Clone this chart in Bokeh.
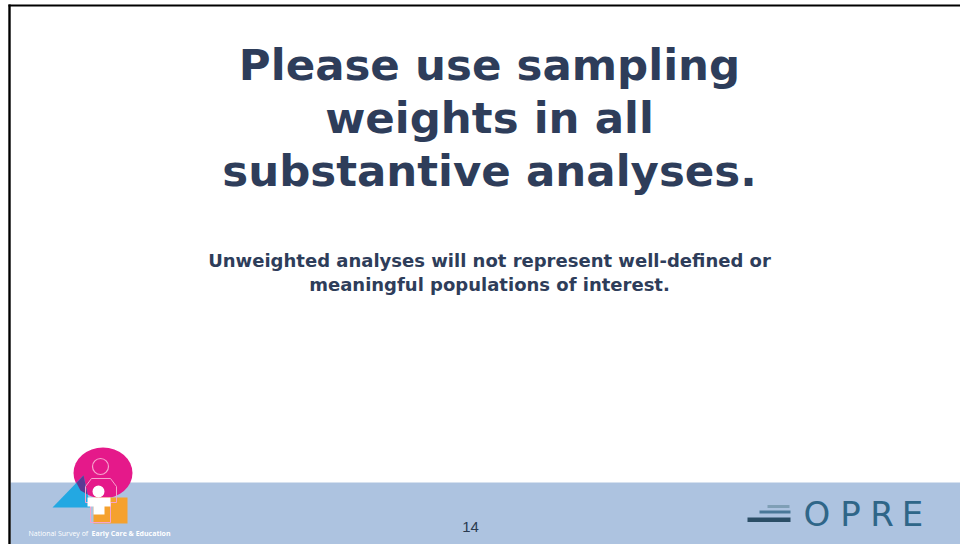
from bokeh.plotting import figure
from bokeh.models import Range1d
from bokeh.core.properties import value
from bokeh.embed import file_html
from bokeh.resources import INLINE

# ---- content ----
title_lines = ["Please use sampling", "weights in all", "substantive analyses."]
subtitle_lines = ["Unweighted analyses will not represent well-defined or",
                  "meaningful populations of interest."]
page_number = ["14"]
logo_letters = ["O", "P", "R", "E"]
nsece_caption_a = ["National Survey of "]
nsece_caption_b = ["Early Care & Education"]

W, H = 960, 544
TEXT_COLOR = "#2e3d5a"
BAND_COLOR = "#adc3e0"
K = 0.36  # baseline correction factor for svg text

p = figure(width=W, height=H, output_backend="svg", toolbar_location=None,
           x_range=Range1d(0, W), y_range=Range1d(H, 0),
           min_border=0, outline_line_color=None, background_fill_color="white",
           border_fill_color="white")
p.axis.visible = False
p.grid.visible = False

# footer band
p.quad(left=[10], right=[W], top=[482], bottom=[H], fill_color=BAND_COLOR,
       line_color=None)

# slide frame (top and left black edges)
p.segment(x0=[8], y0=[5], x1=[W], y1=[5], line_color="black", line_width=2.2)
p.segment(x0=[9], y0=[4], x1=[9], y1=[H], line_color="black", line_width=2.4)

# title
ts = 43.5
p.text(x=[489] * 3, y=[b - K * ts for b in (80, 133, 186)], text=title_lines,
       text_font=value("DejaVu Sans"), text_font_style="bold",
       text_font_size=f"{ts}px", text_color=TEXT_COLOR,
       text_align="center", text_baseline="alphabetic")

# subtitle
ss = 18
p.text(x=[489, 489], y=[b - K * ss for b in (266.5, 290.5)], text=subtitle_lines,
       text_font=value("DejaVu Sans"), text_font_style="bold",
       text_font_size=f"{ss}px", text_color=TEXT_COLOR,
       text_align="center", text_baseline="alphabetic")

# page number
ps = 15
p.text(x=[470], y=[532 - K * ps], text=page_number, text_font=value("Liberation Sans"),
       text_font_size=f"{ps}px", text_color="#2a3a50",
       text_align="center", text_baseline="alphabetic")

# OPRE logo bars
p.quad(left=[767], right=[789], top=[504.5], bottom=[507.5], fill_color="#7f9fb6", line_color=None)
p.quad(left=[759], right=[790], top=[510], bottom=[513], fill_color="#4a7898", line_color=None)
p.quad(left=[747], right=[790], top=[517], bottom=[521.5], fill_color="#2b4e66", line_color=None)
# OPRE letters
os_ = 34
p.text(x=[816.5, 850, 881.5, 912], y=[526 - K * os_] * 4, text=logo_letters,
       text_font=value("DejaVu Sans"), text_font_size=f"{os_}px", text_color="#2f6688",
       text_align="center", text_baseline="alphabetic")

# NSECE logo
p.ellipse(x=[102.5], y=[472.5], width=[59], height=[51], fill_color="#e5198a", line_color=None)
p.patch(x=[52, 83, 90], y=[507, 475, 507], fill_color="#23a8e2", line_color=None)
p.patch(x=[76, 83, 87, 80], y=[482.5, 475, 494, 490], fill_color="#5b3a93", line_color=None)
p.quad(left=[93], right=[127], top=[497], bottom=[523], fill_color="#f5a12e", line_color=None)
# adult outline
p.circle(x=[100], y=[466], radius=[8], fill_color=None, line_color="#f6a3cd", line_width=1.2)
p.patch(x=[85, 85, 91, 110, 116, 116, 110, 110, 90, 90],
        y=[502, 486, 478, 478, 486, 502, 502, 522, 522, 502],
        fill_color=None, line_color="#f6a3cd", line_width=1.0)
# child
p.circle(x=[98], y=[491], radius=[6], fill_color="white", line_color=None)
p.patch(x=[87, 110, 110, 104, 104, 93, 93, 87], y=[497, 497, 506, 506, 514, 514, 506, 506],
        fill_color="white", line_color=None)
p.text(x=[28], y=[536 - K * 7], text=nsece_caption_a, text_font=value("Open Sans"),
       text_font_size="7px", text_color="white", text_align="left",
       text_baseline="alphabetic")
p.text(x=[91], y=[536 - K * 7], text=nsece_caption_b, text_font=value("Open Sans"),
       text_font_size="7px", text_font_style="bold", text_color="white", text_align="left",
       text_baseline="alphabetic")

open("out.html", "w").write(file_html(p, INLINE))
